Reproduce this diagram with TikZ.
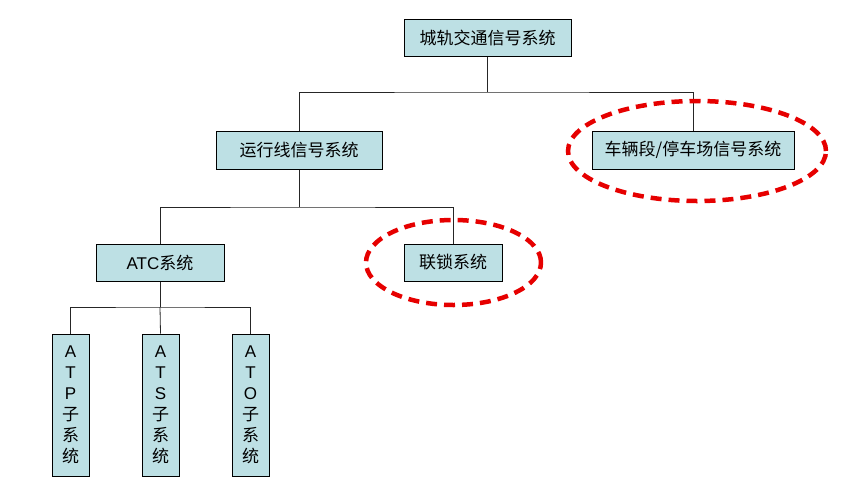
\documentclass[tikz,border=0pt]{standalone}
\usepackage{fontspec}
\setmainfont{Liberation Sans}
\newfontfamily\cjk{Noto Sans CJK SC}
\usetikzlibrary{shapes.geometric}
\definecolor{boxfill}{RGB}{189,224,228}
\definecolor{ovalred}{RGB}{230,0,0}
\tikzset{
  sysbox/.style={draw=black,line width=1pt,fill=boxfill,inner sep=0pt,anchor=center,
    font=\fontsize{17}{21}\selectfont},
  vbox/.style={sysbox,minimum width=37pt,minimum height=142pt,align=center},
  link/.style={draw=black!85,line width=0.8pt},
  oval/.style={draw=ovalred,line width=4.5pt,dash pattern=on 11pt off 7pt,ellipse,inner sep=0pt}
}
\begin{document}
\begin{tikzpicture}[x=1pt,y=-1pt]
\useasboundingbox (0,0) rectangle (866,482);
\node[sysbox,minimum width=167pt,minimum height=37pt] (top) at (487.5,37.5) {\cjk 城轨交通信号系统};
\node[sysbox,minimum width=166pt,minimum height=38pt] (yx) at (299,150) {\cjk 运行线信号系统};
\node[sysbox,minimum width=202pt,minimum height=38pt] (cl) at (693,150) {\cjk 车辆段/停车场信号系统};
\node[sysbox,minimum width=128pt,minimum height=37pt] (atc) at (160,262.5) {ATC{\cjk 系统}};
\node[sysbox,minimum width=98pt,minimum height=37pt] (ls) at (453,262.5) {\cjk 联锁系统};
\node[vbox] (atp) at (70.5,405) {A\\T\\P\\{\cjk 子}\\{\cjk 系}\\{\cjk 统}};
\node[vbox] (ats) at (160.5,405) {A\\T\\S\\{\cjk 子}\\{\cjk 系}\\{\cjk 统}};
\node[vbox] (ato) at (250.5,405) {A\\T\\O\\{\cjk 子}\\{\cjk 系}\\{\cjk 统}};
\coordinate (j1) at (487.5,92);
\coordinate (j2) at (299,207);
\coordinate (j3) at (160,307);
\draw[link] (top.south) -- (j1);
\draw[link] (yx.north) |- (j1) -| (cl.north);
\draw[link] (yx.south) -- (j2);
\draw[link] (atc.north) |- (j2) -| (ls.north);
\draw[link] (atc.south) -- (j3);
\draw[link] (atp.north) |- (j3) -| (ato.north);
\draw[link] (ats.north) -- (j3);
\node[oval,minimum width=258pt,minimum height=100pt] (o1) at (697,151) {};
\node[oval,minimum width=175pt,minimum height=85pt] (o2) at (453.5,262.5) {};
\end{tikzpicture}
\end{document}
